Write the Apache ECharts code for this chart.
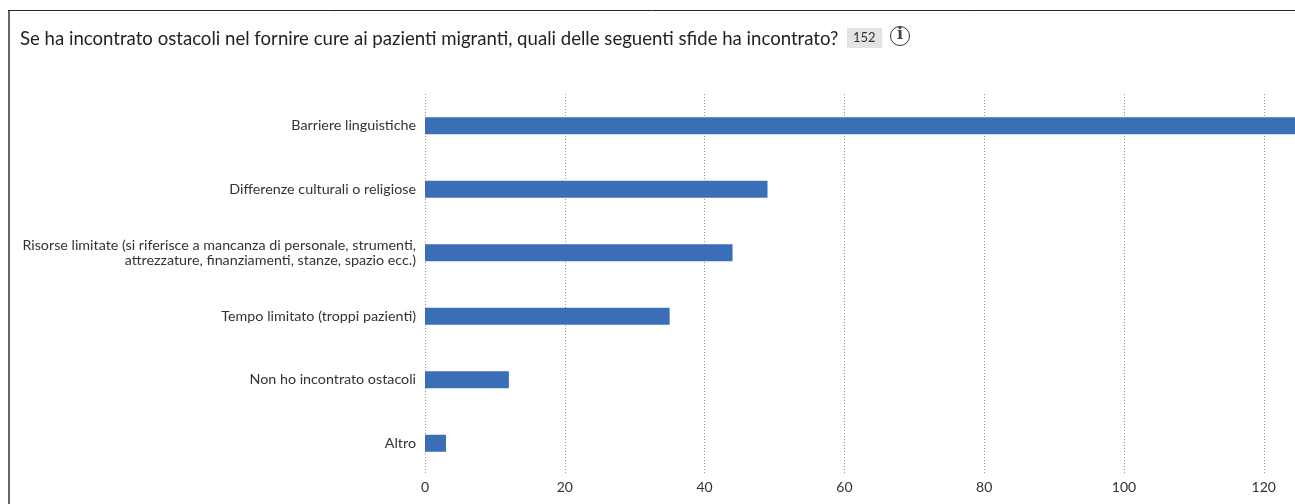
<!DOCTYPE html>
<html><head><meta charset="utf-8">
<style>html,body{margin:0;padding:0;background:#fff;overflow:hidden}#c{width:1295px;height:504px}</style>
<script src="https://cdn.jsdelivr.net/npm/echarts@6/dist/echarts.min.js"></script>
</head><body><div id="c"></div>
<script>
const titleText = 'Se ha incontrato ostacoli nel fornire cure ai pazienti migranti, quali delle seguenti sfide ha incontrato?';
const respondents = '152';
const categories = [
  'Barriere linguistiche',
  'Differenze culturali o religiose',
  'Risorse limitate (si riferisce a mancanza di personale, strumenti,\nattrezzature, finanziamenti, stanze, spazio ecc.)',
  'Tempo limitato (troppi pazienti)',
  'Non ho incontrato ostacoli',
  'Altro'
];
// The first bar runs off the right edge of the picture; 127 is an estimate.
const values = [127, 49, 44, 35, 12, 3];
const font = 'Lato';
const chart = echarts.init(document.getElementById('c'), null, {renderer:'canvas'});
chart.setOption({
  animation:false,
  grid:{left:425, top:94, width:978.6, height:381, containLabel:false, outerBoundsMode:'none'},
  xAxis:{type:'value', min:0, max:140, interval:20,
    axisLine:{show:false}, axisTick:{show:false},
    axisLabel:{color:'#333', fontFamily:font, fontSize:14, margin:5, showMaxLabel:false},
    splitLine:{show:true, lineStyle:{color:'#999', type:[1,2], width:1}}},
  yAxis:{type:'category', inverse:true, data:categories,
    axisLine:{show:false}, axisTick:{show:false},
    axisLabel:{color:'#333', fontFamily:font, fontSize:14.3, margin:9, lineHeight:14.5, align:'right', padding:[2,0,0,0]}},
  series:[{type:'bar', data:values, barWidth:17, itemStyle:{color:'#3a6fb7'}, silent:true}],
  graphic:[
    {type:'line', silent:true, shape:{x1:9,y1:10,x2:9,y2:504}, style:{stroke:'#666', lineWidth:2}},
    {type:'line', silent:true, shape:{x1:8,y1:10.5,x2:1295,y2:10.5}, style:{stroke:'#222', lineWidth:1}},
    {type:'text', silent:true, left:20, top:29, style:{text:titleText, font:'18.6px '+font, fill:'#222'}},
    {type:'rect', silent:true, shape:{x:847, y:28, width:35, height:20}, style:{fill:'#e2e3e5'}},
    {type:'text', silent:true, left:853, top:31, style:{text:respondents, font:'13px '+font, fill:'#333'}},
    {type:'circle', silent:true, shape:{cx:900, cy:36, r:9.5}, style:{fill:'#fff', stroke:'#333', lineWidth:1}},
    {type:'text', silent:true, left:897, top:27, style:{text:'i', font:'bold 16px "DejaVu Serif"', fill:'#444'}}
  ]
});
</script></body></html>
